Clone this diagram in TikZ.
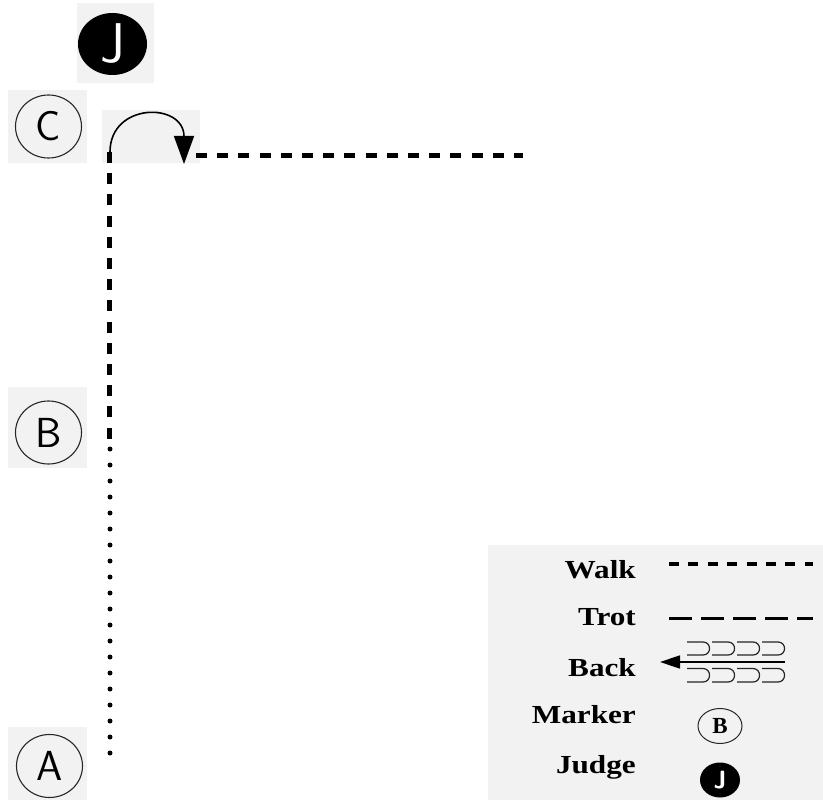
\documentclass[tikz,border=0pt]{standalone}
\usepackage{fontspec}
\newfontfamily\legfont{Liberation Serif}
\usetikzlibrary{shapes.geometric,arrows.meta}
\definecolor{scanbg}{gray}{0.95}
\tikzset{
  bgpatch/.style={fill=scanbg, draw=none},
  bigmarker/.style={ellipse, draw=black!85, line width=1.1pt, inner sep=0pt,
    minimum width=66pt, minimum height=63pt, font=\sffamily\fontsize{42}{46}\selectfont},
  judgebig/.style={ellipse, fill=black, inner sep=0pt, minimum width=69pt,
    minimum height=62pt, text=white, font=\sffamily\fontsize{56}{60}\selectfont},
  walkpath/.style={line width=5pt, dash pattern=on 11pt off 10.2pt},
  dotpath/.style={line width=5pt, line cap=round, dash pattern=on 0pt off 16pt},
  turnarc/.style={line width=1.6pt, -{Triangle[length=28pt,width=20pt]}},
  legtext/.style={anchor=base east, inner sep=0pt, font=\legfont\bfseries\fontsize{26}{30}\selectfont},
  legwalk/.style={line width=4pt, dash pattern=on 10pt off 9.4pt},
  legtrot/.style={line width=3pt, dash pattern=on 23pt off 9pt},
  legback/.style={line width=1.5pt, -{Triangle[length=20pt,width=13pt]}},
  shoe/.style={line width=1.2pt, black!85},
  smallmarker/.style={ellipse, draw=black!85, line width=1pt, inner sep=0pt,
    minimum width=44pt, minimum height=35pt, font=\legfont\bfseries\fontsize{23}{25}\selectfont},
  smalljudge/.style={ellipse, fill=black, inner sep=0pt, minimum width=40pt,
    minimum height=35pt, text=white, font=\sffamily\bfseries\fontsize{25}{27}\selectfont}
}
\begin{document}
\begin{tikzpicture}[x=1pt,y=-1pt]
\useasboundingbox (0,0) rectangle (823,800);
% scan background patches
\fill[bgpatch] (77,3) rectangle (154,83);
\fill[bgpatch] (8,90) rectangle (87,163);
\fill[bgpatch] (102,110) rectangle (200,163);
\fill[bgpatch] (8,387) rectangle (87,468);
\fill[bgpatch] (8,727) rectangle (87,800);
\fill[bgpatch] (488,545) rectangle (823,800);

% markers
\node[judgebig] (J) at (112.5,44) {J};
\node[bigmarker] (C) at (48.5,126.5) {C};
\node[bigmarker] (B) at (48.5,432.5) {B};
\node[bigmarker] (A) at (49.5,766) {A};

% path
\coordinate (vtop) at (109,152);
\coordinate (vbot) at (109,439);
\coordinate (dtop) at (110,449);
\coordinate (dbot) at (110,753.5);
\coordinate (arcL) at (110,152);
\coordinate (arcR) at (184,164);
\coordinate (hstart) at (196,155);
\coordinate (hend) at (523,155);

\draw[walkpath] (vtop) -- (vbot);
\draw[dotpath] (dtop) -- (dbot);
\draw[walkpath] (hstart) -- (hend);
\draw[turnarc] (arcL) .. controls (110,102) and (184,102) .. (arcR);

% legend
\node[legtext] (tw) at (636,578) {\scalebox{1.2}[1]{Walk}};
\node[legtext] (tt) at (636,625) {\scalebox{1.2}[1]{Trot}};
\node[legtext] (tb) at (636,676) {\scalebox{1.2}[1]{Back}};
\node[legtext] (tm) at (636,723) {\scalebox{1.2}[1]{Marker}};
\node[legtext] (tj) at (636,773) {\scalebox{1.2}[1]{Judge}};

\coordinate (w1) at (669,564);
\coordinate (w2) at (813,564);
\coordinate (t1) at (669,618);
\coordinate (t2) at (813,618);
\coordinate (b1) at (785,662);
\coordinate (b2) at (660,662);
\draw[legwalk] (w1) -- (w2);
\draw[legtrot] (t1) -- (t2);
\draw[legback] (b1) -- (b2);
\foreach \x in {687,712,737,762} {
  \draw[shoe] (\x,642) -- ++(16,0) .. controls ++(8.7,0) and ++(8.7,0) .. (\x+16,655) -- (\x,655);
  \draw[shoe] (\x,668.5) -- ++(16,0) .. controls ++(8.7,0) and ++(8.7,0) .. (\x+16,682) -- (\x,682);
}
\node[smallmarker] (mB) at (720,726) {B};
\node[smalljudge] (mJ) at (720,780) {J};
\end{tikzpicture}
\end{document}
